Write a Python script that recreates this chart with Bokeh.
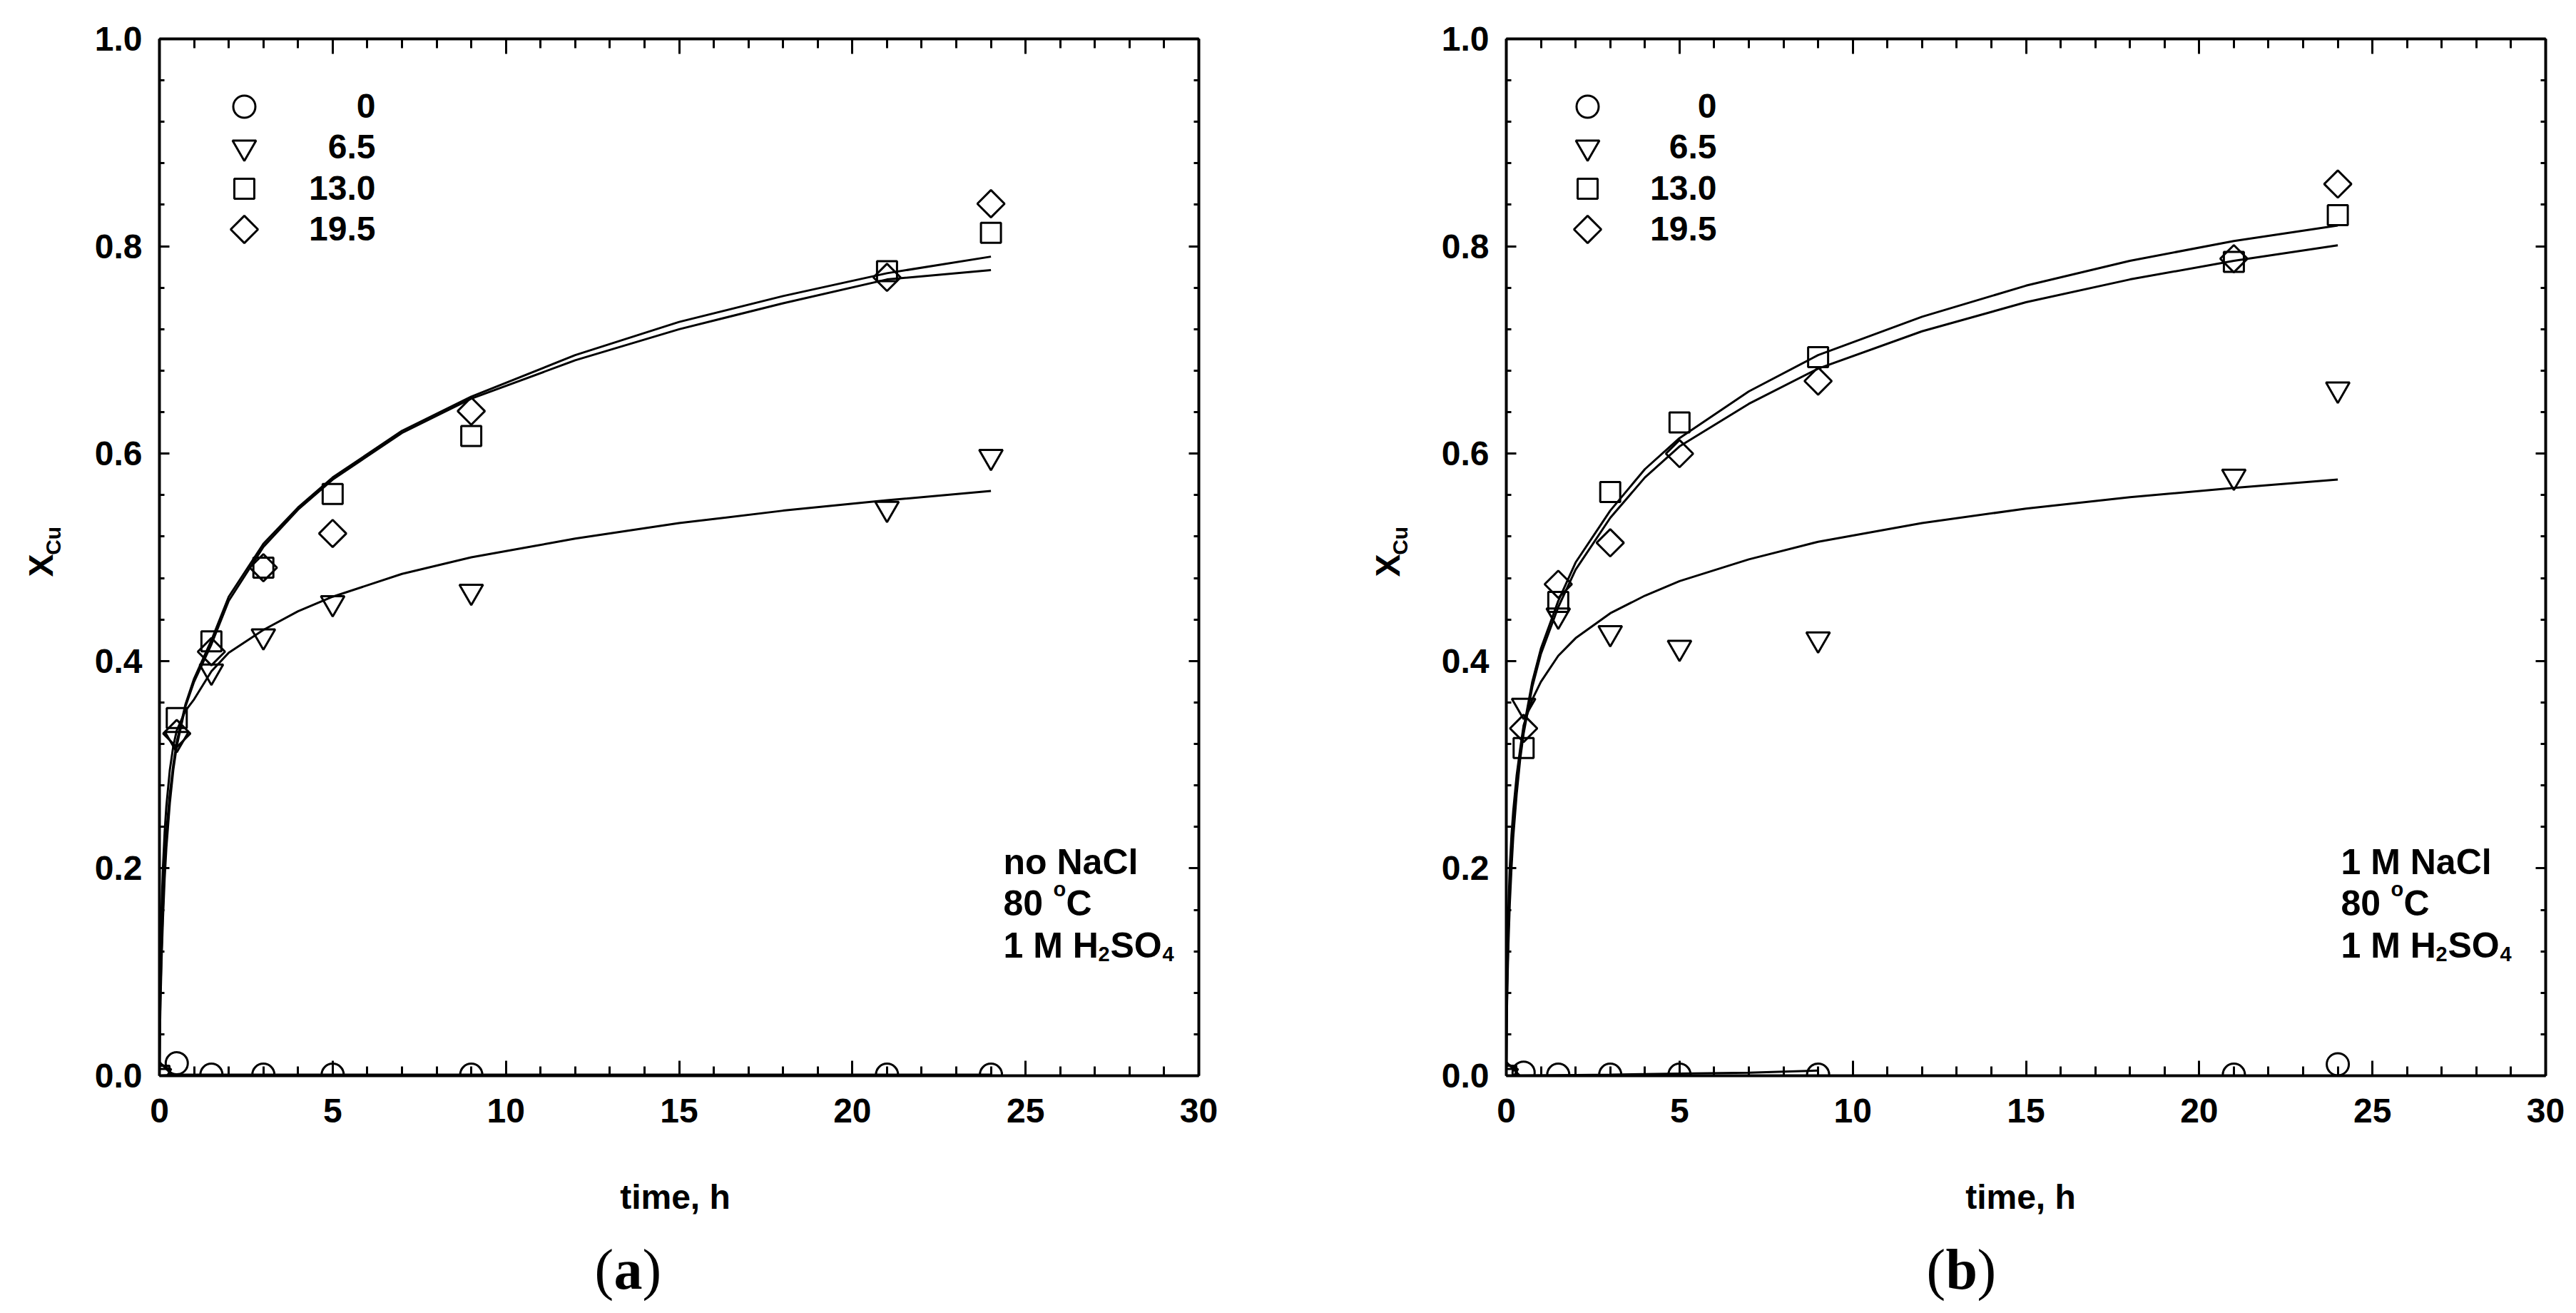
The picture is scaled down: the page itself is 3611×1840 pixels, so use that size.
import math
from bokeh.plotting import figure
from bokeh.models import (Range1d, FixedTicker, LinearAxis, Label,
                          CustomJSTickFormatter)
from bokeh.layouts import row, column
from bokeh.embed import file_html
from bokeh.resources import INLINE

# ---------------- data ----------------
TIMES = [0, 0.5, 1.5, 3, 5, 9, 21, 24]
SERIES_LABELS = ["0", "6.5", "13.0", "19.5"]

# panel (a): no NaCl
A_X0 = [0, 0.012, 0.001, 0.001, 0.001, 0.001, 0.001, 0.001]
A_X65 = [0, 0.325, 0.39, 0.424, 0.456, 0.467, 0.547, 0.597]
A_X130 = [0, 0.345, 0.419, 0.49, 0.561, 0.617, 0.776, 0.813]
A_X195 = [0, 0.33, 0.409, 0.49, 0.523, 0.641, 0.77, 0.841]

# panel (b): 1 M NaCl
B_X0 = [0, 0.003, 0.001, 0.001, 0.001, 0.001, 0.001, 0.011]
B_X65 = [0, 0.357, 0.444, 0.427, 0.413, 0.421, 0.578, 0.662]
B_X130 = [0, 0.316, 0.457, 0.563, 0.630, 0.693, 0.785, 0.830]
B_X195 = [0, 0.335, 0.474, 0.514, 0.600, 0.670, 0.788, 0.860]

# fitted curves
CURVE_T = [0, 0.01, 0.03, 0.06, 0.1, 0.15, 0.2, 0.3, 0.4, 0.5, 0.75, 1, 1.5, 2,
           3, 4, 5, 7, 9, 12, 15, 18, 21, 24]
A_FIT65 = [0, 0.06, 0.11, 0.16, 0.20, 0.235, 0.26, 0.295, 0.318, 0.333, 0.352,
           0.363, 0.39, 0.408, 0.43, 0.448, 0.462, 0.484, 0.50, 0.518, 0.533,
           0.545, 0.555, 0.564]
A_FIT195 = [0, 0.04, 0.08, 0.12, 0.16, 0.205, 0.235, 0.272, 0.30, 0.322, 0.358,
            0.383, 0.42, 0.462, 0.513, 0.548, 0.577, 0.622, 0.655, 0.695, 0.727,
            0.752, 0.774, 0.790]
A_FIT130 = [0, 0.035, 0.07, 0.11, 0.15, 0.19, 0.22, 0.263, 0.295, 0.318, 0.356,
            0.38, 0.416, 0.458, 0.51, 0.546, 0.575, 0.62, 0.653, 0.69, 0.72,
            0.745, 0.768, 0.777]
A_FIT0_T = [0, 0.5, 24]
A_FIT0 = [0, 0.001, 0.001]

B_FIT65 = [0, 0.06, 0.11, 0.16, 0.20, 0.232, 0.255, 0.29, 0.315, 0.338, 0.363,
           0.38, 0.405, 0.422, 0.446, 0.463, 0.477, 0.498, 0.515, 0.533, 0.547,
           0.558, 0.567, 0.575]
B_FIT130 = [0, 0.05, 0.09, 0.14, 0.18, 0.212, 0.24, 0.28, 0.31, 0.335, 0.38,
            0.412, 0.458, 0.495, 0.545, 0.585, 0.615, 0.66, 0.695, 0.732, 0.762,
            0.786, 0.805, 0.820]
B_FIT195 = [0, 0.045, 0.085, 0.125, 0.165, 0.2, 0.23, 0.272, 0.305, 0.33, 0.375,
            0.407, 0.452, 0.488, 0.538, 0.577, 0.607, 0.648, 0.682, 0.718, 0.746,
            0.768, 0.786, 0.801]
B_FIT0_T = [0, 3, 5, 7, 9]
B_FIT0 = [0, 0.001, 0.002, 0.003, 0.005]

X_TICKS = [0, 5, 10, 15, 20, 25, 30]
X_MINOR = [0, 1, 2, 3, 4, 5, 6, 7, 8, 9, 10, 11, 12, 13, 14, 15, 16, 17, 18, 19,
           20, 21, 22, 23, 24, 25, 26, 27, 28, 29, 30]
Y_TICKS = [0.0, 0.2, 0.4, 0.6, 0.8, 1.0]
Y_TICK_LABELS = ["0.0", "0.2", "0.4", "0.6", "0.8", "1.0"]
Y_MINOR = [0.0, 0.04, 0.08, 0.12, 0.16, 0.2, 0.24, 0.28, 0.32, 0.36, 0.4, 0.44,
           0.48, 0.52, 0.56, 0.6, 0.64, 0.68, 0.72, 0.76, 0.8, 0.84, 0.88, 0.92,
           0.96, 1.0]

SANS = "Liberation Sans"
SERIF = "Liberation Serif"

# ---------------- layout constants (pixels) ----------------
FRAME_W = 1457
FRAME_H = 1453
TOP_B = 54
BOT_B = 100
ROW1_H = TOP_B + FRAME_H + BOT_B      # 1607
ROW2_H = 217
X_MIN, X_MAX = 0, 30
Y_MIN, Y_MAX = 0, 1

MARKERS = [dict(marker="circle", size=31),
           dict(marker="inverted_triangle", size=33),
           dict(marker="square", size=28),
           dict(marker="square", size=27, angle=math.pi / 4)]
LEG_ROWS_PX = [1358, 1301, 1243, 1186]   # row centres above frame bottom


def style_axis(ax, horizontal, labels):
    if horizontal:
        ax.ticker = FixedTicker(ticks=X_TICKS, minor_ticks=X_MINOR)
        ax.major_tick_in = 21
        ax.minor_tick_in = 13
    else:
        ax.ticker = FixedTicker(ticks=Y_TICKS, minor_ticks=Y_MINOR)
        ax.major_tick_in = 14
        ax.minor_tick_in = 7
    ax.major_tick_out = 0
    ax.minor_tick_out = 0
    ax.axis_line_width = 4
    ax.axis_line_color = "black"
    ax.major_tick_line_width = 3
    ax.minor_tick_line_width = 3
    ax.major_tick_line_color = "black"
    ax.minor_tick_line_color = "black"
    if labels:
        ax.major_label_text_font = SANS
        ax.major_label_text_font_style = "bold"
        ax.major_label_text_font_size = "48px"
        ax.major_label_text_color = "black"
        if horizontal:
            ax.major_label_standoff = 32
        else:
            ax.major_label_standoff = 24
            ax.major_label_overrides = dict(zip(Y_TICKS, Y_TICK_LABELS))
    else:
        ax.formatter = CustomJSTickFormatter(code="return ''")
        ax.major_label_text_font_size = "0px"
        ax.major_label_standoff = 0


def add_label(p, text, x, y, size, font=SANS, style="bold", align="left",
              angle=0, units="screen"):
    p.add_layout(Label(x=x, y=y, x_units=units, y_units=units,
                       text=text, text_font=font, text_font_style=style,
                       text_font_size=size, text_color="black",
                       text_align=align, text_baseline="alphabetic",
                       angle=angle))


def text_fig(width, height):
    f = figure(width=width, height=height, x_range=Range1d(0, width),
               y_range=Range1d(0, height), min_border=0,
               x_axis_location=None, y_axis_location=None,
               output_backend="svg", toolbar_location=None)
    f.outline_line_color = None
    f.grid.visible = False
    f.background_fill_color = "white"
    f.border_fill_color = "white"
    return f


def make_panel(border_left, border_right, data, fits, fit0, note, note_x,
               leg_marker_px, leg_text_px):
    p = figure(frame_width=FRAME_W, frame_height=FRAME_H,
               min_border_left=border_left, min_border_right=border_right,
               min_border_top=TOP_B, min_border_bottom=BOT_B,
               x_range=Range1d(X_MIN, X_MAX), y_range=Range1d(Y_MIN, Y_MAX),
               output_backend="svg", toolbar_location=None)
    p.outline_line_color = None
    p.xgrid.visible = False
    p.ygrid.visible = False
    p.background_fill_color = "white"
    p.border_fill_color = "white"

    style_axis(p.xaxis[0], True, True)
    style_axis(p.yaxis[0], False, True)
    top = LinearAxis()
    style_axis(top, True, False)
    p.add_layout(top, "above")
    right = LinearAxis()
    style_axis(right, False, False)
    p.add_layout(right, "right")

    # fitted curves
    p.line(fit0[0], fit0[1], line_color="black", line_width=3)
    for fy in fits:
        p.line(CURVE_T, fy, line_color="black", line_width=3)

    kw = dict(fill_color=None, line_color="black", line_width=3)
    for ys, mk in zip(data, MARKERS):
        p.scatter(TIMES, ys, **mk, **kw)

    # legend (drawn by hand so that labels are right-aligned like the original)
    lx = X_MIN + leg_marker_px / FRAME_W * (X_MAX - X_MIN)
    for lab, mk, ry in zip(SERIES_LABELS, MARKERS, LEG_ROWS_PX):
        p.scatter([lx], [Y_MIN + ry / FRAME_H * (Y_MAX - Y_MIN)], **mk, **kw)
        add_label(p, lab, leg_text_px, ry + 1, "48px", align="right")

    # annotation block
    nx = note_x
    add_label(p, note, nx, 300, "50px")
    add_label(p, "80 ", nx, 242, "50px")
    add_label(p, "o", nx + 70, 262, "29px")
    add_label(p, "C", nx + 88, 242, "50px")
    add_label(p, "1 M H", nx, 183, "50px")
    add_label(p, "2", nx + 133, 171, "29px")
    add_label(p, "SO", nx + 150, 183, "50px")
    add_label(p, "4", nx + 223, 171, "29px")
    return p


def ylabel_fig(width, x_anchor):
    f = text_fig(width, ROW1_H)
    add_label(f, "X", x_anchor, 773, "48px", angle=math.pi / 2, units="data")
    add_label(f, "Cu", x_anchor + 17, 807, "30px", angle=math.pi / 2,
              units="data")
    return f


def caption_fig(width, title_cx, tag, tag_x):
    f = text_fig(width, ROW2_H)
    add_label(f, "time, h", title_cx, 147, "48px", align="center", units="data")
    add_label(f, "(", tag_x, 46, "80px", font=SERIF, style="normal", units="data")
    add_label(f, tag, tag_x + 27, 46, "80px", font=SERIF, style="bold",
              units="data")
    w = 40 if tag == "a" else 44
    add_label(f, ")", tag_x + 27 + w, 46, "80px", font=SERIF, style="normal",
              units="data")
    return f


pa = make_panel(118, 55, (A_X0, A_X65, A_X130, A_X195),
                (A_FIT65, A_FIT130, A_FIT195), (A_FIT0_T, A_FIT0),
                "no NaCl", 1183, 119, 303)
pb = make_panel(129, 27, (B_X0, B_X65, B_X130, B_X195),
                (B_FIT65, B_FIT130, B_FIT195), (B_FIT0_T, B_FIT0),
                "1 M NaCl", 1170, 114, 295)
ya = ylabel_fig(105, 57)
yb = ylabel_fig(247, 210)
ca = caption_fig(1735, 946, "a", 833)
cb = caption_fig(1860, 1097, "b", 965)

layout = column(row(ya, pa, yb, pb), row(ca, cb))
open("out.html", "w").write(file_html(layout, INLINE))
